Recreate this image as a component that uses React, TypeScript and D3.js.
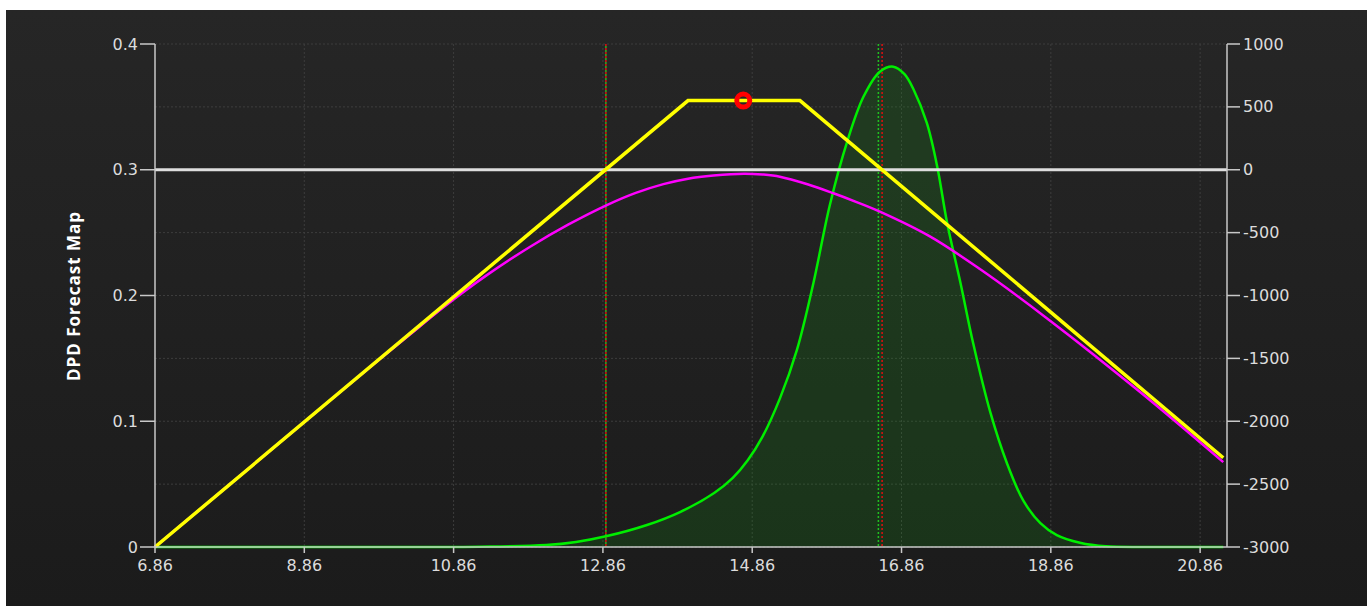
import React from 'react';
import * as d3 from 'd3';

// price axis ticks and value axes
const xTicks = [6.86, 8.86, 10.86, 12.86, 14.86, 16.86, 18.86, 20.86];
const leftTicks = [0, 0.1, 0.2, 0.3, 0.4];
const rightTicks = [1000, 500, 0, -500, -1000, -1500, -2000, -2500, -3000];

// P&L at expiration (right axis)
const expiryX = [6.86, 14.0, 15.5, 21.17];
const expiryPL = [-3000, 550, 550, -2290];

// P&L today (right axis)
const todayX = [6.86, 7.86, 8.86, 9.86, 10.4, 10.72, 11.3, 11.88, 12.4, 12.92, 13.3, 13.67, 14.0, 14.34, 14.75, 15.0, 15.23, 15.6, 15.94, 16.25, 16.57, 17.24, 17.91, 18.85, 20.06, 21.17];
const todayPL = [-3000, -2503, -2006, -1512, -1250, -1095, -840, -614, -435, -279, -184, -114, -71, -46, -31, -38, -55, -115, -185, -255, -333, -530, -790, -1200, -1770, -2325];

// forecast probability density (left axis)
const densX = [6.86, 10.5, 11.2, 12.1, 12.5, 12.9, 13.45, 13.9, 14.35, 14.6, 14.8, 15.0, 15.23, 15.46, 15.68, 15.9, 16.13, 16.35, 16.57, 16.75, 16.9, 17.02, 17.2, 17.34, 17.47, 17.65, 17.82, 18.05, 18.27, 18.49, 18.72, 18.94, 19.25, 19.6, 20.2, 21.17];
const densY = [0, 0, 0.0002, 0.0015, 0.004, 0.0085, 0.0175, 0.028, 0.043, 0.055, 0.069, 0.088, 0.118, 0.157, 0.21, 0.272, 0.322, 0.358, 0.378, 0.382, 0.376, 0.364, 0.337, 0.302, 0.258, 0.21, 0.162, 0.107, 0.067, 0.037, 0.019, 0.0095, 0.0034, 0.0005, 0, 0];

// breakeven / markers
const breakLow = 12.9;
const breakHighGreen = 16.55;
const breakHighRed = 16.6;
const currentX = 14.74;
const currentPL = 550;

const W = 1367;
const H = 606;
const left = 155, right = 1227, top = 44, bottom = 547;

export default function App() {
  const x = d3.scaleLinear().domain([6.86, 21.22]).range([left, right]);
  const yL = d3.scaleLinear().domain([0, 0.4]).range([bottom, top]);
  const yR = d3.scaleLinear().domain([-3000, 1000]).range([bottom, top]);

  const dens = densX.map((v, i) => [v, densY[i]] as [number, number]);
  const today = todayX.map((v, i) => [v, todayPL[i]] as [number, number]);
  const expiry = expiryX.map((v, i) => [v, expiryPL[i]] as [number, number]);

  const smooth = d3.curveCatmullRom.alpha(0.5);
  const area = d3.area<[number, number]>()
    .x(d => x(d[0])).y0(yL(0)).y1(d => Math.min(yL(d[1]), yL(0)))
    .curve(smooth);
  const densLine = d3.line<[number, number]>()
    .x(d => x(d[0])).y(d => yL(d[1]))
    .curve(smooth);
  const todayLine = d3.line<[number, number]>()
    .x(d => x(d[0])).y(d => yR(d[1]))
    .curve(smooth);
  const expiryLine = d3.line<[number, number]>()
    .x(d => x(d[0])).y(d => yR(d[1]));

  const font = '"DejaVu Sans", Verdana, sans-serif';
  const axisColor = '#c8c8c8';
  const textColor = '#dcdcdc';

  return (
    <svg width={W} height={H} style={{ position: 'absolute', left: 0, top: 0 }}>
      <defs>
        <linearGradient id="bg" x1="0" y1="0" x2="0" y2="1">
          <stop offset="0" stopColor="#262626" />
          <stop offset="1" stopColor="#1b1b1b" />
        </linearGradient>
      </defs>
      <rect x={0} y={0} width={W} height={H} fill="#ffffff" />
      <rect x={6} y={10} width={W - 6} height={H - 10} fill="url(#bg)" />

      {/* grid */}
      <g stroke="#3d3d3d" strokeWidth={1} strokeDasharray="2,2">
        {rightTicks.map(t => (
          <line key={'h' + t} x1={left} x2={right} y1={yR(t)} y2={yR(t)} />
        ))}
        {xTicks.slice(1).map(t => (
          <line key={'v' + t} x1={x(t)} x2={x(t)} y1={top} y2={bottom} />
        ))}
      </g>

      {/* density */}
      <path d={area(dens) || ''} fill="rgba(20,150,20,0.2)" />

      {/* breakeven lines */}
      <g strokeWidth={1.5} strokeDasharray="2,2">
        <line x1={x(breakLow)} x2={x(breakLow)} y1={top} y2={bottom} stroke="#e01010" />
        <line x1={x(breakLow)} x2={x(breakLow)} y1={top} y2={bottom} stroke="#30b020" strokeDashoffset={2} />
        <line x1={x(breakHighGreen)} x2={x(breakHighGreen)} y1={top} y2={bottom} stroke="#20c020" />
        <line x1={x(breakHighRed)} x2={x(breakHighRed)} y1={top} y2={bottom} stroke="#e01010" />
      </g>

      <path d={densLine(dens) || ''} fill="none" stroke="#00ee00" strokeWidth={2.5} />

      {/* zero P&L line */}
      <line x1={left} x2={right} y1={yR(0)} y2={yR(0)} stroke="#dedede" strokeWidth={3} />

      <path d={todayLine(today) || ''} fill="none" stroke="#ff00ff" strokeWidth={2.5} />
      <path d={expiryLine(expiry) || ''} fill="none" stroke="#ffff00" strokeWidth={3.5} />

      <circle cx={x(currentX)} cy={yR(currentPL)} r={6.5} fill="none" stroke="#ff0000" strokeWidth={5} />

      {/* axes */}
      <g stroke={axisColor} strokeWidth={1.5}>
        <line x1={left} x2={left} y1={top} y2={bottom} />
        <line x1={right} x2={right} y1={top} y2={bottom} />
        <line x1={left} x2={right} y1={bottom} y2={bottom} />
        {leftTicks.map(t => (
          <line key={'lt' + t} x1={left - 15} x2={left} y1={yL(t)} y2={yL(t)} />
        ))}
        {rightTicks.map(t => (
          <line key={'rt' + t} x1={right} x2={right + 13} y1={yR(t)} y2={yR(t)} />
        ))}
        {xTicks.map(t => (
          <line key={'bt' + t} x1={x(t)} x2={x(t)} y1={bottom} y2={bottom + 6} />
        ))}
      </g>

      <g fill={textColor} fontFamily={font} fontSize={16}>
        {leftTicks.map(t => (
          <text key={'ll' + t} x={left - 17} y={yL(t)} dy="0.35em" textAnchor="end">{String(t)}</text>
        ))}
        {rightTicks.map(t => (
          <text key={'rl' + t} x={right + 16} y={yR(t)} dy="0.35em">{String(t)}</text>
        ))}
        {xTicks.map(t => (
          <text key={'bl' + t} x={x(t)} y={bottom + 24} textAnchor="middle">{t.toFixed(2)}</text>
        ))}
      </g>

      <text
        transform={`translate(80,296) rotate(-90)`}
        textAnchor="middle"
        fill="#ffffff"
        fontFamily='"Open Sans", sans-serif'
        fontWeight="bold"
        fontSize={17}
        letterSpacing={1}
      >
        DPD Forecast Map
      </text>
    </svg>
  );
}
